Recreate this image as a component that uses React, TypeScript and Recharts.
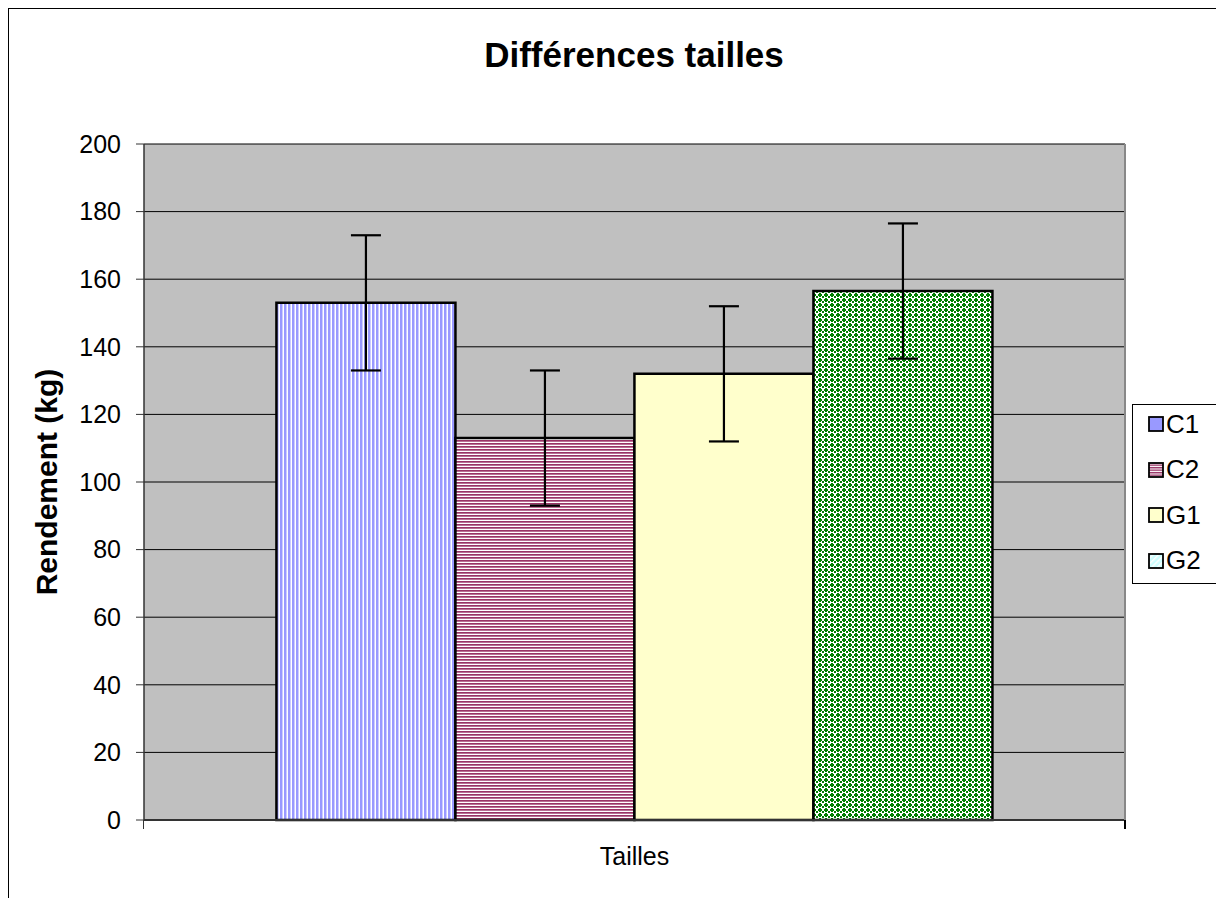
import React from 'react'
import { BarChart, Bar, XAxis, YAxis, CartesianGrid, ErrorBar } from 'recharts'

const categories = ['Tailles']
const seriesNames = ['C1', 'C2', 'G1', 'G2']
const seriesValues = [153, 113, 132, 156.5]
const seriesErrors = [20, 20, 20, 20]
const yTicks = [0, 20, 40, 60, 80, 100, 120, 140, 160, 180, 200]

const fills = ['url(#pC1)', 'url(#pC2)', '#FFFFCC', 'url(#pG2)']
const legendFills = ['#9999FF', 'url(#lC2)', '#FFFFCC', 'url(#lG2)']

const data = categories.map((cat) => {
  const row: Record<string, string | number> = { category: cat }
  seriesNames.forEach((name, i) => {
    row[name] = seriesValues[i]
    row[name + '_err'] = seriesErrors[i]
  })
  return row
})

const FONT = '"Liberation Sans", Arial, sans-serif'

export default function App() {
  return (
    <div style={{ position: 'relative', width: 1216, height: 890, overflow: 'hidden', fontFamily: FONT }}>
      {/* cadre du graphique */}
      <div style={{ position: 'absolute', left: 0, top: 0, width: 1300, height: 1000, borderLeft: '1.5px solid #000', borderTop: '1.5px solid #000' }} />
      <div style={{ position: 'absolute', left: 0, top: 27, width: 1252, textAlign: 'center', fontSize: 35, fontWeight: 'bold', lineHeight: '40px' }}>
        Différences tailles
      </div>
      <div
        style={{
          position: 'absolute', left: 39, top: 474, transform: 'translate(-50%, -50%) rotate(-90deg)',
          fontSize: 30, fontWeight: 'bold', whiteSpace: 'nowrap',
        }}
      >
        Rendement (kg)
      </div>
      <div style={{ position: 'absolute', left: 0, top: 0 }}>
        <BarChart
          width={1216}
          height={890}
          data={data}
          margin={{ top: 136, right: 99, bottom: 48, left: 56 }}
          barCategoryGap="13.5%"
          barGap={0}
        >
          <defs>
            <pattern id="pC1" width="4" height="4" patternUnits="userSpaceOnUse">
              <rect width="4" height="4" fill="#fff" />
              <rect width="2.5" height="4" fill="#9999FF" />
            </pattern>
            <pattern id="pC2" width="4" height="3" patternUnits="userSpaceOnUse">
              <rect width="4" height="3" fill="#fff" />
              <rect width="4" height="1.7" fill="#993366" />
            </pattern>
            <pattern id="pG2" width="6" height="5" patternUnits="userSpaceOnUse">
              <rect width="6" height="5" fill="#fff" />
              <rect x="1" y="0" width="2" height="4" fill="#008000" />
              <rect x="0" y="1" width="4" height="2" fill="#008000" />
              <rect x="4" y="3" width="2" height="2" fill="#008000" />
            </pattern>
          </defs>
          <CartesianGrid vertical={false} stroke="#000" strokeWidth={1} fill="#C0C0C0" fillOpacity={1} />
          <XAxis
            dataKey="category"
            axisLine={{ stroke: '#333', strokeWidth: 2 }}
            tickLine={false}
            tickSize={0}
            tickMargin={27}
            height={30}
            tick={{ fill: '#000', fontSize: 25, fontFamily: FONT }}
          />
          <YAxis
            domain={[0, 200]}
            ticks={yTicks}
            interval={0}
            width={80}
            axisLine={{ stroke: '#333', strokeWidth: 1.5 }}
            tickLine={{ stroke: '#333' }}
            tickSize={8}
            tickMargin={15}
            tick={{ fill: '#000', fontSize: 25, fontFamily: FONT }}
          />
          {seriesNames.map((name, i) => (
            <Bar key={name} dataKey={name} fill={fills[i]} stroke="#000" strokeWidth={2.5} isAnimationActive={false}>
              <ErrorBar dataKey={name + '_err'} direction="y" width={15} stroke="#000" strokeWidth={2.2} />
            </Bar>
          ))}
        </BarChart>
      </div>
      {/* bordure droite de la zone de tracé */}
      <div style={{ position: 'absolute', left: 1116, top: 136, width: 2, height: 676, background: '#888' }} />
      {/* graduations de l'axe des catégories */}
      <div style={{ position: 'absolute', left: 135, top: 812, width: 1, height: 9, background: '#333' }} />
      <div style={{ position: 'absolute', left: 1116, top: 812, width: 1.5, height: 9, background: '#000' }} />
      {/* légende */}
      <div
        style={{
          position: 'absolute', left: 1124, top: 396, width: 87, height: 180,
          border: '1px solid #000', background: '#fff', boxSizing: 'border-box',
        }}
      >
        <svg width={0} height={0} style={{ position: 'absolute' }}>
          <defs>
            <pattern id="lC2" width="4" height="2.5" patternUnits="userSpaceOnUse">
              <rect width="4" height="2.5" fill="#fff" />
              <rect width="4" height="1.4" fill="#993366" />
            </pattern>
            <pattern id="lG2" width="4" height="4" patternUnits="userSpaceOnUse" patternTransform="rotate(45)">
              <rect width="4" height="4" fill="#CCFFFF" />
              <rect width="1.5" height="4" fill="#fff" />
            </pattern>
          </defs>
        </svg>
        {seriesNames.map((name, i) => (
          <div key={name} style={{ position: 'absolute', left: 15, top: 4 + i * 45.5, height: 30, display: 'flex', alignItems: 'center' }}>
            <svg width={16} height={16} style={{ marginRight: 2 }}>
              <rect x={1} y={1} width={14} height={14} fill={legendFills[i]} stroke="#000" strokeWidth={1.8} />
            </svg>
            <span style={{ fontSize: 26 }}>{name}</span>
          </div>
        ))}
      </div>
    </div>
  )
}
